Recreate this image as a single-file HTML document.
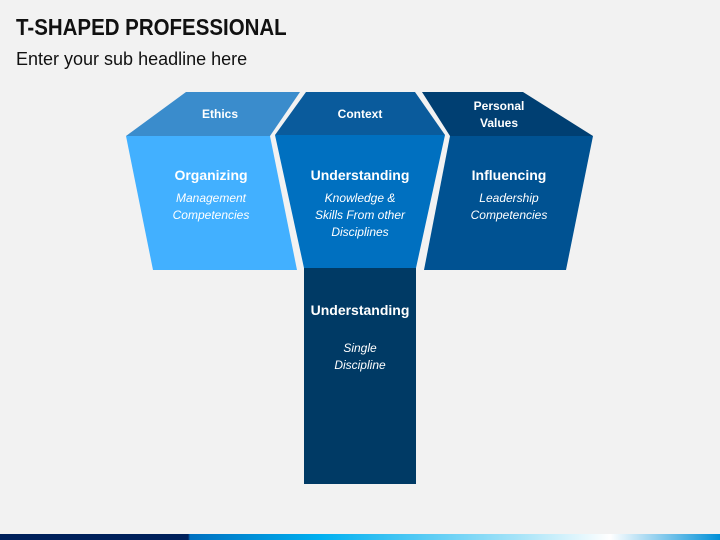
<!DOCTYPE html>
<html><head><meta charset="utf-8"><style>
body{margin:0;width:720px;height:540px;background:#f2f2f2;overflow:hidden;position:relative;font-family:"Liberation Sans",sans-serif}
.t{position:absolute;left:16px;top:14px;font-size:23px;font-weight:bold;color:#111;transform:scaleX(0.89);transform-origin:0 0}
.s{position:absolute;left:16px;top:49px;font-size:18px;color:#111}
.bar{position:absolute;left:0;top:534px;width:720px;height:6px;background:linear-gradient(90deg,#00205b 0,#00205b 188px,#0070c0 190px,#00b0f0 320px,#a8e4f8 520px,#ffffff 610px,#0090d8 720px)}
</style></head><body>
<div class="t">T-SHAPED PROFESSIONAL</div>
<div class="s">Enter your sub headline here</div>
<svg width="720" height="540" style="position:absolute;left:0;top:0" font-family="Liberation Sans, sans-serif" fill="#fff" text-anchor="middle">
<polygon points="126,136 186,92 300,92 270,136" fill="#3a8ccc"/>
<polygon points="126,136 270,136 297,270 153,270" fill="#42b0ff"/>
<polygon points="275,135 306,92 415,92 445,135" fill="#0a5b9c"/>
<polygon points="275,135 445,135 416,268 304,268" fill="#0070c0"/>
<polygon points="450,136 422,92 523,92 593,136" fill="#003f72"/>
<polygon points="450,136 593,136 566,270 424,270" fill="#005292"/>
<rect x="304" y="268" width="112" height="216" fill="#003a65"/>
<g font-size="12" font-weight="bold">
<text x="220" y="118">Ethics</text>
<text x="360" y="118">Context</text>
<text x="499" y="110">Personal</text>
<text x="499" y="127">Values</text>
</g>
<g font-size="14" font-weight="bold">
<text x="211" y="180">Organizing</text>
<text x="360" y="180">Understanding</text>
<text x="509" y="180">Influencing</text>
<text x="360" y="315">Understanding</text>
</g>
<g font-size="12" font-style="italic">
<text x="211" y="202">Management</text>
<text x="211" y="219">Competencies</text>
<text x="360" y="202">Knowledge &amp;</text>
<text x="360" y="219">Skills From other</text>
<text x="360" y="236">Disciplines</text>
<text x="509" y="202">Leadership</text>
<text x="509" y="219">Competencies</text>
<text x="360" y="352">Single</text>
<text x="360" y="369">Discipline</text>
</g>
</svg>
<div class="bar"></div>
</body></html>
